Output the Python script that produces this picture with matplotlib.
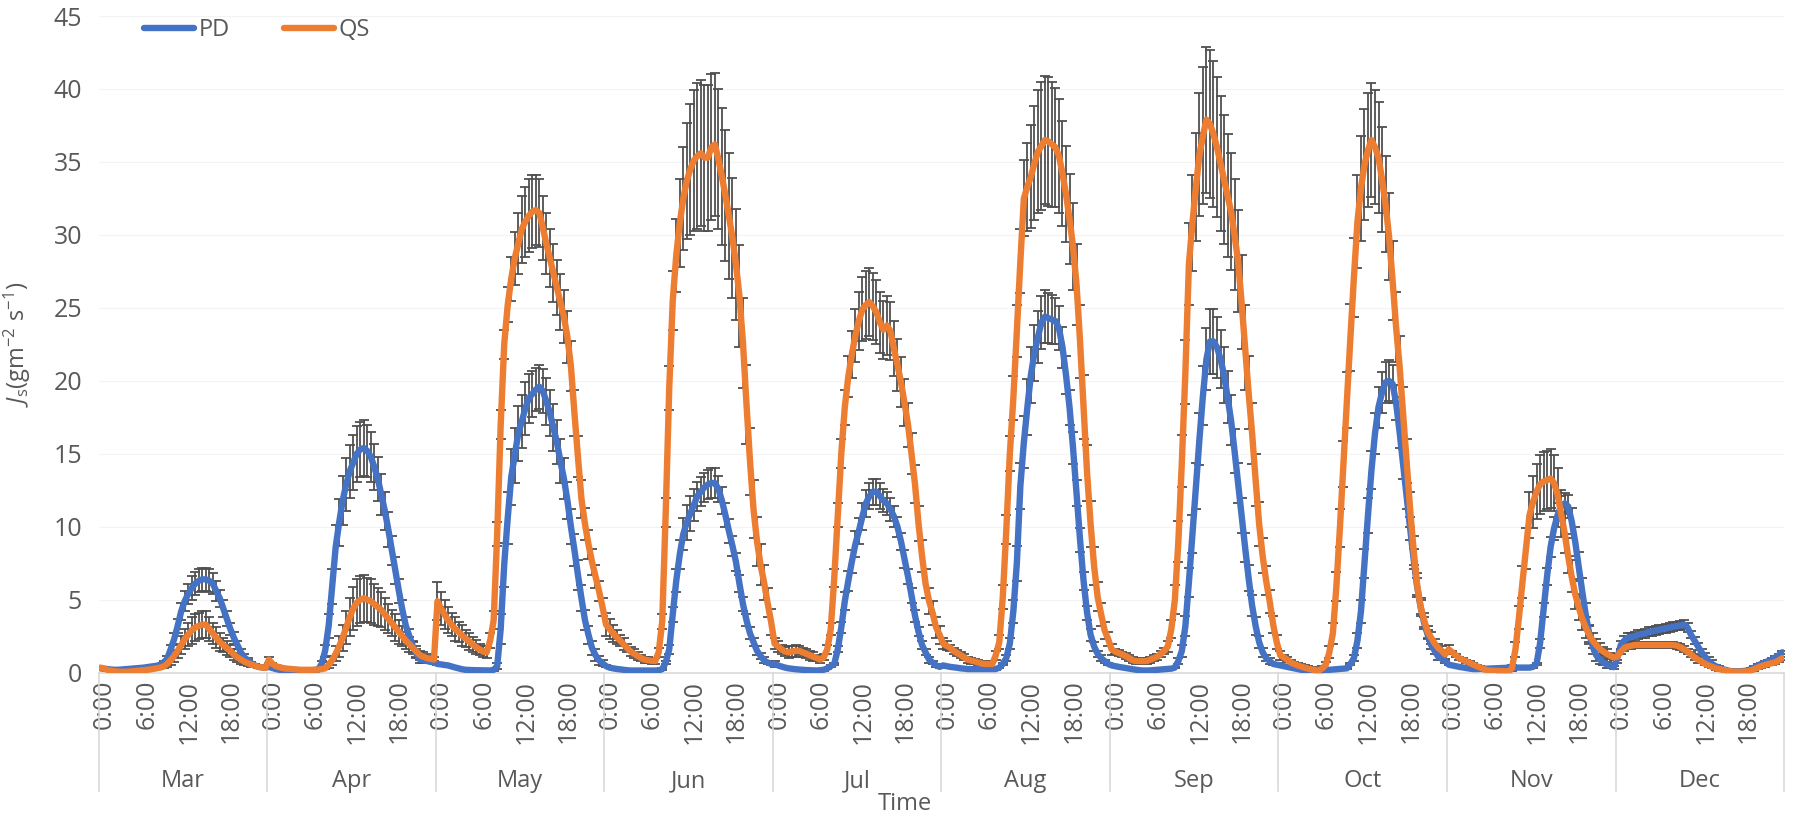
import numpy as np
import matplotlib
matplotlib.use("Agg")
import matplotlib.pyplot as plt
import matplotlib.transforms as mtransforms

months = ["Mar", "Apr", "May", "Jun", "Jul", "Aug", "Sep", "Oct", "Nov", "Dec"]
hour_labels = ["0:00", "6:00", "12:00", "18:00"]

# half-hourly mean sap flux, 48 values per month (Mar..Dec)
pd_mean = [
    0.3, 0.28, 0.25, 0.22, 0.2, 0.2, 0.22, 0.24, 0.26, 0.28, 0.3, 0.32, 0.34, 0.37, 0.41, 0.44, 0.47, 0.55, 0.7, 0.95, 1.6, 2.3, 3.2, 4.2, 4.9, 5.4, 5.8, 6.1, 6.3, 6.4, 6.4, 6.3, 6.1, 5.6, 5.1, 4.4, 3.7, 3.0, 2.4, 1.9, 1.4, 1.05, 0.85, 0.65, 0.5, 0.4, 0.37, 0.35,
    0.4, 0.32, 0.25, 0.2, 0.18, 0.16, 0.15, 0.14, 0.13, 0.12, 0.12, 0.14, 0.17, 0.19, 0.2, 0.6, 1.5, 3.2, 5.9, 8.6, 10.3, 11.8, 12.9, 13.8, 14.4, 15.0, 15.3, 15.4, 15.2, 14.8, 14.1, 13.3, 12.2, 11.1, 9.8, 8.4, 7.0, 5.6, 4.3, 3.2, 2.5, 1.8, 1.3, 0.9, 0.85, 0.8, 0.75, 0.7,
    0.6, 0.57, 0.53, 0.5, 0.43, 0.36, 0.3, 0.24, 0.2, 0.19, 0.18, 0.17, 0.17, 0.16, 0.16, 0.15, 0.2, 0.45, 3.0, 7.4, 10.6, 13.4, 14.9, 16.4, 17.2, 18.1, 18.8, 19.1, 19.4, 19.6, 19.3, 18.6, 17.8, 16.8, 15.8, 14.5, 13.3, 11.8, 10.0, 8.4, 6.7, 5.1, 3.6, 2.6, 1.7, 1.2, 0.85, 0.65,
    0.45, 0.35, 0.3, 0.26, 0.23, 0.2, 0.17, 0.15, 0.15, 0.15, 0.15, 0.15, 0.15, 0.15, 0.15, 0.15, 0.25, 0.7, 1.6, 4.0, 6.3, 8.1, 9.5, 10.3, 10.9, 11.5, 12.1, 12.4, 12.7, 12.9, 13.0, 13.0, 12.6, 11.8, 10.8, 9.7, 8.7, 7.6, 6.1, 4.7, 3.6, 2.7, 2.1, 1.5, 1.15, 0.85, 0.7, 0.6,
    0.6, 0.5, 0.42, 0.35, 0.3, 0.27, 0.24, 0.22, 0.2, 0.18, 0.17, 0.16, 0.15, 0.17, 0.2, 0.3, 0.45, 0.6, 1.6, 3.1, 4.9, 6.3, 7.6, 8.8, 9.7, 10.7, 11.6, 12.1, 12.4, 12.4, 12.1, 11.8, 11.6, 11.2, 10.7, 10.0, 9.0, 7.8, 6.6, 5.3, 3.9, 2.8, 1.9, 1.4, 0.9, 0.7, 0.5, 0.4,
    0.5, 0.45, 0.4, 0.37, 0.34, 0.3, 0.28, 0.25, 0.25, 0.25, 0.25, 0.25, 0.25, 0.25, 0.25, 0.25, 0.35, 0.6, 1.0, 2.0, 4.2, 7.5, 12.8, 15.8, 18.2, 20.4, 21.9, 23.0, 24.0, 24.4, 24.3, 24.2, 24.1, 23.6, 22.3, 20.4, 18.2, 15.4, 12.3, 9.1, 6.3, 4.1, 2.6, 1.8, 1.3, 1.0, 0.8, 0.6,
    0.5, 0.45, 0.4, 0.36, 0.32, 0.28, 0.24, 0.2, 0.17, 0.15, 0.15, 0.16, 0.18, 0.2, 0.22, 0.24, 0.26, 0.28, 0.35, 0.8, 1.5, 3.2, 6.2, 9.5, 12.8, 16.0, 19.0, 21.5, 22.7, 22.7, 22.3, 21.5, 20.4, 18.9, 17.3, 15.2, 13.0, 10.8, 8.6, 6.5, 4.6, 3.2, 2.1, 1.4, 1.0, 0.8, 0.6, 0.55,
    0.5, 0.45, 0.4, 0.35, 0.3, 0.25, 0.2, 0.16, 0.15, 0.15, 0.16, 0.17, 0.18, 0.19, 0.2, 0.22, 0.24, 0.26, 0.28, 0.3, 0.6, 1.0, 2.2, 4.2, 7.5, 10.8, 13.9, 16.4, 18.2, 19.2, 19.9, 20.0, 19.8, 18.5, 16.5, 14.3, 12.1, 9.9, 7.8, 5.9, 4.5, 3.4, 2.6, 1.9, 1.5, 1.1, 0.95, 0.8,
    0.55, 0.5, 0.45, 0.4, 0.36, 0.32, 0.28, 0.25, 0.25, 0.26, 0.27, 0.28, 0.29, 0.3, 0.31, 0.32, 0.33, 0.35, 0.35, 0.35, 0.35, 0.35, 0.35, 0.35, 0.4, 0.6, 2.0, 4.3, 6.6, 8.6, 9.9, 10.8, 11.4, 11.6, 11.4, 10.4, 9.0, 7.3, 5.6, 4.0, 2.7, 1.8, 1.2, 0.9, 0.7, 0.55, 0.45, 0.38,
    1.0, 1.9, 2.2, 2.4, 2.45, 2.5, 2.6, 2.65, 2.7, 2.8, 2.85, 2.9, 2.95, 3.0, 3.05, 3.1, 3.15, 3.2, 3.25, 3.3, 3.1, 2.6, 2.2, 1.8, 1.4, 1.1, 0.8, 0.6, 0.45, 0.35, 0.25, 0.18, 0.12, 0.1, 0.1, 0.1, 0.12, 0.15, 0.25, 0.35, 0.5, 0.6, 0.7, 0.8, 0.9, 1.05, 1.2, 1.4,
]
pd_err = [
    0.05, 0.05, 0.05, 0.05, 0.05, 0.05, 0.05, 0.05, 0.05, 0.05, 0.05, 0.05, 0.05, 0.05, 0.05, 0.05, 0.05, 0.05, 0.1, 0.2, 0.3, 0.4, 0.5, 0.6, 0.7, 0.7, 0.8, 0.8, 0.8, 0.8, 0.8, 0.8, 0.7, 0.7, 0.6, 0.6, 0.5, 0.4, 0.4, 0.3, 0.2, 0.2, 0.15, 0.1, 0.1, 0.1, 0.1, 0.1,
    0.05, 0.05, 0.05, 0.05, 0.05, 0.05, 0.05, 0.05, 0.05, 0.05, 0.05, 0.05, 0.05, 0.05, 0.05, 0.2, 0.4, 0.8, 1.2, 1.5, 1.6, 1.7, 1.8, 1.8, 1.9, 1.9, 1.9, 1.9, 1.8, 1.7, 1.6, 1.5, 1.4, 1.3, 1.2, 1.0, 0.9, 0.8, 0.7, 0.6, 0.5, 0.4, 0.3, 0.2, 0.2, 0.15, 0.1, 0.1,
    0.05, 0.05, 0.05, 0.05, 0.05, 0.05, 0.05, 0.05, 0.05, 0.05, 0.05, 0.05, 0.05, 0.05, 0.05, 0.05, 0.05, 0.2, 1.0, 1.5, 1.8, 1.9, 1.9, 1.9, 1.8, 1.8, 1.7, 1.6, 1.5, 1.5, 1.5, 1.6, 1.6, 1.6, 1.5, 1.5, 1.4, 1.3, 1.2, 1.1, 1.0, 0.9, 0.7, 0.6, 0.5, 0.4, 0.3, 0.2,
    0.05, 0.05, 0.05, 0.05, 0.05, 0.05, 0.05, 0.05, 0.05, 0.05, 0.05, 0.05, 0.05, 0.05, 0.05, 0.05, 0.05, 0.1, 0.3, 0.5, 0.8, 1.0, 1.1, 1.2, 1.2, 1.1, 1.0, 1.0, 1.0, 1.0, 1.0, 1.0, 0.9, 0.9, 0.8, 0.8, 0.7, 0.6, 0.6, 0.5, 0.4, 0.4, 0.3, 0.3, 0.2, 0.2, 0.1, 0.1,
    0.2, 0.05, 0.05, 0.05, 0.05, 0.05, 0.05, 0.05, 0.05, 0.05, 0.05, 0.05, 0.05, 0.05, 0.05, 0.05, 0.05, 0.05, 0.2, 0.4, 0.6, 0.7, 0.8, 0.9, 0.9, 0.9, 0.9, 0.9, 0.9, 0.9, 0.9, 0.8, 0.8, 0.8, 0.7, 0.7, 0.6, 0.6, 0.5, 0.5, 0.4, 0.3, 0.3, 0.2, 0.2, 0.1, 0.1, 0.1,
    0.05, 0.05, 0.05, 0.05, 0.05, 0.05, 0.05, 0.05, 0.05, 0.05, 0.05, 0.05, 0.05, 0.05, 0.05, 0.05, 0.05, 0.1, 0.2, 0.4, 0.8, 1.2, 1.6, 1.8, 1.9, 1.9, 1.9, 1.8, 1.8, 1.8, 1.7, 1.7, 1.6, 1.5, 1.4, 1.3, 1.2, 1.1, 0.9, 0.8, 0.6, 0.5, 0.4, 0.3, 0.2, 0.2, 0.1, 0.1,
    0.05, 0.05, 0.05, 0.05, 0.05, 0.05, 0.05, 0.05, 0.05, 0.05, 0.05, 0.05, 0.05, 0.05, 0.05, 0.05, 0.05, 0.05, 0.05, 0.2, 0.4, 0.7, 1.0, 1.3, 1.6, 1.8, 2.0, 2.1, 2.2, 2.2, 2.1, 2.0, 1.9, 1.8, 1.7, 1.5, 1.4, 1.2, 1.0, 0.9, 0.7, 0.6, 0.4, 0.3, 0.2, 0.2, 0.1, 0.1,
    0.05, 0.05, 0.05, 0.05, 0.05, 0.05, 0.05, 0.05, 0.05, 0.05, 0.05, 0.05, 0.05, 0.05, 0.05, 0.05, 0.05, 0.05, 0.05, 0.05, 0.1, 0.2, 0.5, 0.8, 1.0, 1.2, 1.3, 1.4, 1.4, 1.4, 1.4, 1.4, 1.3, 1.2, 1.1, 1.0, 0.9, 0.8, 0.7, 0.6, 0.5, 0.4, 0.3, 0.3, 0.2, 0.2, 0.1, 0.1,
    0.05, 0.05, 0.05, 0.05, 0.05, 0.05, 0.05, 0.05, 0.05, 0.05, 0.05, 0.05, 0.05, 0.05, 0.05, 0.05, 0.05, 0.05, 0.05, 0.05, 0.05, 0.05, 0.05, 0.05, 0.05, 0.1, 0.3, 0.5, 0.6, 0.7, 0.8, 0.8, 0.7, 0.7, 0.8, 0.9, 1.0, 1.0, 0.9, 0.8, 0.6, 0.5, 0.4, 0.3, 0.2, 0.2, 0.1, 0.1,
    0.3, 0.3, 0.3, 0.3, 0.3, 0.3, 0.3, 0.3, 0.3, 0.3, 0.3, 0.3, 0.3, 0.3, 0.3, 0.3, 0.3, 0.3, 0.3, 0.3, 0.3, 0.25, 0.25, 0.25, 0.25, 0.25, 0.25, 0.25, 0.1, 0.1, 0.1, 0.1, 0.1, 0.1, 0.1, 0.1, 0.1, 0.1, 0.1, 0.1, 0.1, 0.1, 0.1, 0.1, 0.1, 0.1, 0.1, 0.1,
]
qs_mean = [
    0.35, 0.28, 0.2, 0.14, 0.1, 0.07, 0.07, 0.07, 0.07, 0.1, 0.12, 0.14, 0.17, 0.19, 0.22, 0.26, 0.3, 0.35, 0.42, 0.6, 0.85, 1.15, 1.5, 1.9, 2.3, 2.6, 2.9, 3.1, 3.2, 3.3, 3.3, 3.0, 2.7, 2.4, 2.1, 1.9, 1.7, 1.5, 1.25, 1.05, 0.9, 0.75, 0.65, 0.55, 0.48, 0.4, 0.36, 0.33,
    0.9, 0.6, 0.45, 0.38, 0.32, 0.28, 0.26, 0.24, 0.22, 0.2, 0.2, 0.2, 0.2, 0.2, 0.22, 0.25, 0.3, 0.55, 0.85, 1.3, 1.8, 2.4, 3.1, 3.8, 4.4, 4.8, 5.0, 5.1, 5.0, 4.9, 4.7, 4.5, 4.3, 4.0, 3.7, 3.4, 3.1, 2.8, 2.5, 2.2, 1.95, 1.7, 1.45, 1.2, 1.1, 1.0, 0.95, 0.9,
    4.9, 4.4, 4.0, 3.6, 3.3, 3.0, 2.8, 2.55, 2.35, 2.15, 1.95, 1.75, 1.6, 1.45, 1.4, 2.2, 3.6, 9.5, 17.0, 22.5, 25.2, 27.0, 28.4, 29.4, 30.4, 30.9, 31.3, 31.6, 31.7, 31.5, 30.5, 29.4, 28.4, 27.4, 26.4, 25.4, 24.4, 23.0, 21.0, 17.8, 14.8, 11.9, 10.2, 8.8, 7.6, 6.6, 5.6, 4.5,
    3.3, 3.0, 2.7, 2.45, 2.2, 1.95, 1.7, 1.45, 1.3, 1.15, 1.0, 0.9, 0.85, 0.82, 0.8, 1.4, 3.5, 11.0, 19.5, 25.5, 28.6, 30.8, 32.5, 33.7, 34.5, 35.1, 35.4, 35.6, 35.3, 35.3, 36.0, 36.2, 35.2, 34.0, 32.7, 31.3, 29.8, 28.0, 25.8, 22.6, 18.4, 14.5, 11.2, 9.0, 7.4, 6.2, 4.8, 3.5,
    2.0, 1.8, 1.6, 1.45, 1.4, 1.45, 1.5, 1.5, 1.4, 1.3, 1.2, 1.1, 1.0, 0.9, 1.05, 1.6, 3.0, 6.5, 10.8, 15.0, 18.2, 20.3, 21.8, 23.1, 24.1, 24.9, 25.2, 25.4, 25.1, 24.7, 24.0, 23.5, 23.8, 23.4, 22.2, 21.1, 19.9, 18.5, 17.0, 15.0, 12.9, 10.2, 8.0, 6.1, 4.9, 4.1, 3.1, 2.6,
    2.0, 1.85, 1.7, 1.5, 1.35, 1.2, 1.05, 0.9, 0.83, 0.77, 0.7, 0.63, 0.6, 0.6, 0.6, 1.2, 2.1, 5.2, 9.8, 15.0, 18.8, 23.4, 28.2, 32.5, 33.3, 34.0, 34.9, 35.7, 36.1, 36.5, 36.4, 36.2, 36.0, 35.4, 34.2, 32.8, 31.1, 29.2, 26.6, 22.7, 18.2, 13.7, 10.2, 7.3, 5.2, 4.0, 2.9, 2.3,
    1.6, 1.45, 1.35, 1.25, 1.15, 1.0, 0.85, 0.8, 0.8, 0.8, 0.8, 0.9, 1.0, 1.1, 1.3, 1.5, 1.8, 3.0, 5.0, 9.0, 14.5, 20.6, 28.0, 30.8, 33.3, 35.5, 36.8, 37.9, 37.6, 36.9, 36.0, 34.9, 33.8, 32.7, 31.6, 30.0, 28.2, 25.4, 22.3, 19.2, 16.4, 13.2, 10.2, 8.0, 6.3, 4.9, 3.3, 2.1,
    1.2, 1.05, 0.9, 0.7, 0.6, 0.5, 0.42, 0.35, 0.28, 0.22, 0.18, 0.15, 0.3, 0.55, 1.4, 2.7, 5.9, 9.9, 14.3, 18.7, 23.0, 27.1, 30.9, 33.2, 34.8, 35.8, 36.5, 36.0, 35.3, 33.8, 32.1, 29.9, 26.9, 23.7, 21.0, 17.8, 14.5, 11.2, 8.4, 6.0, 4.5, 3.6, 2.8, 2.4, 2.0, 1.7, 1.5, 1.25,
    1.6, 1.4, 1.2, 1.0, 0.88, 0.78, 0.67, 0.55, 0.45, 0.35, 0.25, 0.16, 0.14, 0.13, 0.12, 0.11, 0.1, 0.1, 0.3, 1.6, 3.8, 6.2, 8.5, 10.8, 11.7, 12.4, 12.9, 13.1, 13.2, 13.3, 13.0, 12.2, 10.9, 9.6, 8.0, 6.6, 5.4, 4.5, 3.7, 3.1, 2.6, 2.2, 1.9, 1.65, 1.45, 1.3, 1.15, 1.05,
    1.1, 1.45, 1.7, 1.8, 1.85, 1.9, 1.9, 1.9, 1.9, 1.9, 1.9, 1.9, 1.9, 1.9, 1.9, 1.9, 1.9, 1.85, 1.75, 1.6, 1.45, 1.25, 1.05, 0.9, 0.75, 0.6, 0.5, 0.4, 0.3, 0.25, 0.2, 0.15, 0.1, 0.08, 0.07, 0.07, 0.08, 0.1, 0.15, 0.25, 0.35, 0.45, 0.52, 0.6, 0.65, 0.7, 0.85, 1.0,
]
qs_err = [
    0.05, 0.05, 0.05, 0.05, 0.05, 0.05, 0.05, 0.05, 0.05, 0.05, 0.05, 0.05, 0.05, 0.05, 0.05, 0.05, 0.05, 0.05, 0.1, 0.2, 0.3, 0.4, 0.5, 0.6, 0.7, 0.8, 0.9, 0.9, 0.9, 0.9, 0.9, 0.8, 0.7, 0.7, 0.6, 0.5, 0.5, 0.4, 0.4, 0.3, 0.3, 0.2, 0.2, 0.15, 0.1, 0.1, 0.1, 0.1,
    0.2, 0.05, 0.05, 0.05, 0.05, 0.05, 0.05, 0.05, 0.05, 0.05, 0.05, 0.05, 0.05, 0.05, 0.05, 0.05, 0.05, 0.2, 0.3, 0.5, 0.7, 0.9, 1.1, 1.3, 1.5, 1.6, 1.6, 1.6, 1.5, 1.5, 1.4, 1.3, 1.2, 1.1, 1.0, 0.9, 0.9, 0.8, 0.7, 0.6, 0.5, 0.4, 0.4, 0.3, 0.3, 0.25, 0.2, 0.2,
    1.3, 1.1, 1.0, 0.9, 0.8, 0.8, 0.7, 0.7, 0.6, 0.6, 0.5, 0.5, 0.4, 0.4, 0.4, 0.5, 0.6, 0.8, 1.0, 1.0, 1.2, 1.5, 1.8, 2.1, 2.3, 2.4, 2.5, 2.5, 2.4, 2.3, 2.2, 2.1, 2.0, 2.0, 1.9, 1.9, 1.8, 1.8, 1.7, 1.6, 1.4, 1.3, 1.1, 1.0, 0.9, 0.8, 0.7, 0.6,
    0.8, 0.7, 0.6, 0.5, 0.4, 0.4, 0.3, 0.3, 0.3, 0.3, 0.2, 0.2, 0.2, 0.2, 0.2, 0.3, 0.5, 1.0, 1.5, 2.0, 2.5, 3.0, 3.5, 4.0, 4.5, 4.8, 5.0, 5.0, 5.0, 5.0, 5.0, 4.9, 4.8, 4.7, 4.5, 4.3, 4.1, 3.8, 3.5, 3.1, 2.7, 2.3, 2.0, 1.7, 1.4, 1.2, 1.0, 0.9,
    0.4, 0.4, 0.3, 0.3, 0.4, 0.4, 0.4, 0.3, 0.3, 0.3, 0.3, 0.3, 0.2, 0.2, 0.2, 0.3, 0.4, 0.6, 0.8, 1.0, 1.2, 1.4, 1.6, 1.8, 2.0, 2.2, 2.3, 2.3, 2.3, 2.2, 2.1, 2.0, 2.0, 2.0, 1.9, 1.8, 1.7, 1.6, 1.5, 1.4, 1.3, 1.2, 1.1, 1.0, 0.9, 0.8, 0.7, 0.6,
    0.4, 0.3, 0.2, 0.2, 0.2, 0.2, 0.2, 0.2, 0.2, 0.2, 0.2, 0.2, 0.2, 0.2, 0.2, 0.3, 0.5, 0.8, 1.0, 1.2, 1.5, 1.8, 2.2, 2.6, 3.0, 3.5, 3.9, 4.2, 4.4, 4.4, 4.4, 4.3, 4.1, 3.9, 3.6, 3.3, 3.1, 3.0, 2.8, 2.5, 2.2, 1.9, 1.6, 1.3, 1.0, 0.8, 0.6, 0.5,
    0.4, 0.2, 0.2, 0.2, 0.2, 0.2, 0.2, 0.2, 0.2, 0.2, 0.2, 0.2, 0.2, 0.2, 0.2, 0.2, 0.4, 0.6, 1.0, 1.4, 1.8, 2.2, 2.8, 3.3, 3.7, 4.2, 4.7, 5.0, 5.1, 5.0, 4.8, 4.6, 4.4, 4.2, 4.0, 3.8, 3.5, 3.2, 2.9, 2.5, 2.1, 1.8, 1.5, 1.2, 1.0, 0.8, 0.6, 0.5,
    0.3, 0.15, 0.15, 0.15, 0.15, 0.15, 0.15, 0.15, 0.15, 0.15, 0.15, 0.15, 0.15, 0.2, 0.4, 0.7, 1.0, 1.3, 1.6, 1.9, 2.3, 2.7, 3.2, 3.6, 3.8, 3.9, 3.9, 3.9, 3.8, 3.6, 3.3, 3.0, 2.7, 2.4, 2.1, 1.8, 1.5, 1.2, 1.0, 0.8, 0.6, 0.5, 0.4, 0.4, 0.3, 0.3, 0.3, 0.3,
    0.3, 0.1, 0.1, 0.1, 0.1, 0.1, 0.1, 0.1, 0.1, 0.1, 0.1, 0.1, 0.1, 0.1, 0.1, 0.1, 0.1, 0.1, 0.2, 0.5, 0.8, 1.1, 1.4, 1.6, 1.8, 1.9, 2.0, 2.0, 2.0, 2.0, 1.9, 1.8, 1.6, 1.4, 1.2, 1.1, 1.0, 0.9, 0.8, 0.7, 0.6, 0.5, 0.4, 0.4, 0.3, 0.3, 0.2, 0.2,
    0.2, 0.2, 0.2, 0.2, 0.2, 0.2, 0.2, 0.2, 0.2, 0.2, 0.2, 0.2, 0.2, 0.2, 0.2, 0.2, 0.2, 0.2, 0.2, 0.2, 0.2, 0.2, 0.2, 0.2, 0.1, 0.1, 0.1, 0.1, 0.1, 0.1, 0.1, 0.1, 0.1, 0.1, 0.1, 0.1, 0.1, 0.1, 0.1, 0.1, 0.1, 0.1, 0.1, 0.1, 0.1, 0.1, 0.1, 0.1,
]

PER_MONTH = 48
GREY = "#595959"


def main():
    plt.rcParams["font.family"] = ["Open Sans", "DejaVu Sans"]
    plt.rcParams["mathtext.fontset"] = "custom"
    plt.rcParams["mathtext.rm"] = "Open Sans"
    plt.rcParams["mathtext.it"] = "Open Sans:italic"

    fig = plt.figure(figsize=(17.97, 8.17), dpi=100)
    ax = fig.add_axes([0.0549, 0.1766, 0.9379, 0.8038])

    x = np.arange(len(pd_mean))
    n = len(months) * PER_MONTH

    # error bars first, lines on top (QS drawn last, like the Excel original)
    for mean, err in ((pd_mean, pd_err), (qs_mean, qs_err)):
        ax.errorbar(x, mean, yerr=err, fmt="none", ecolor="#505050",
                    elinewidth=1.3, capsize=3.5, capthick=1.3, zorder=2)
    ax.plot(x, pd_mean, color="#4472C4", lw=4.6, label="PD", zorder=3,
            solid_joinstyle="round", solid_capstyle="round")
    ax.plot(x, qs_mean, color="#ED7D31", lw=4.6, label="QS", zorder=4,
            solid_joinstyle="round", solid_capstyle="round")

    ax.set_xlim(-0.5, n - 0.5)
    ax.set_ylim(0, 45)
    ax.set_yticks(np.arange(0, 46, 5))
    ax.yaxis.grid(True, color="#F3F3F3", lw=0.8)
    ax.set_axisbelow(True)
    for side in ("top", "right", "left"):
        ax.spines[side].set_visible(False)
    ax.spines["bottom"].set_color("#D9D9D9")
    ax.spines["bottom"].set_linewidth(1.2)

    # hour labels inside each month
    ticks = []
    labels = []
    for m in range(len(months)):
        for k, lab in enumerate(hour_labels):
            ticks.append(m * PER_MONTH + k * 12 + 1.2)
            labels.append(lab)
    ax.set_xticks(ticks)
    ax.set_xticklabels(labels, rotation=90, va="top")
    ax.tick_params(axis="x", length=0, pad=5, labelsize=18, labelcolor=GREY)
    ax.tick_params(axis="y", length=0, pad=12, labelsize=18, labelcolor=GREY)

    # month row with separators
    trans = mtransforms.blended_transform_factory(ax.transData, ax.transAxes)
    for m, name in enumerate(months):
        ax.text(m * PER_MONTH + PER_MONTH / 2 - 0.5, -0.165, name, transform=trans,
                ha="center", va="center", fontsize=17, color=GREY)
    for m in range(len(months) + 1):
        xb = m * PER_MONTH - 0.5
        ax.plot([xb, xb], [0, -0.18], transform=trans, color="#D9D9D9",
                lw=1.2, clip_on=False)

    fig.text(0.5036, 0.016, "Time", ha="center", va="center", fontsize=17, color=GREY)
    ax.set_ylabel(r"$J_\mathrm{s}$(gm$^{-2}$ s$^{-1}$)", fontsize=17, color=GREY)
    ax.yaxis.set_label_coords(-0.039, 0.5)

    ax.legend(loc="center left", bbox_to_anchor=(0.027, 0.979), ncol=2,
              frameon=False, fontsize=17, handlelength=2.1, handletextpad=0.2,
              columnspacing=2.3, borderpad=0, borderaxespad=0, labelcolor=GREY)

    fig.savefig("out.png", dpi=100)


if __name__ == "__main__":
    main()
